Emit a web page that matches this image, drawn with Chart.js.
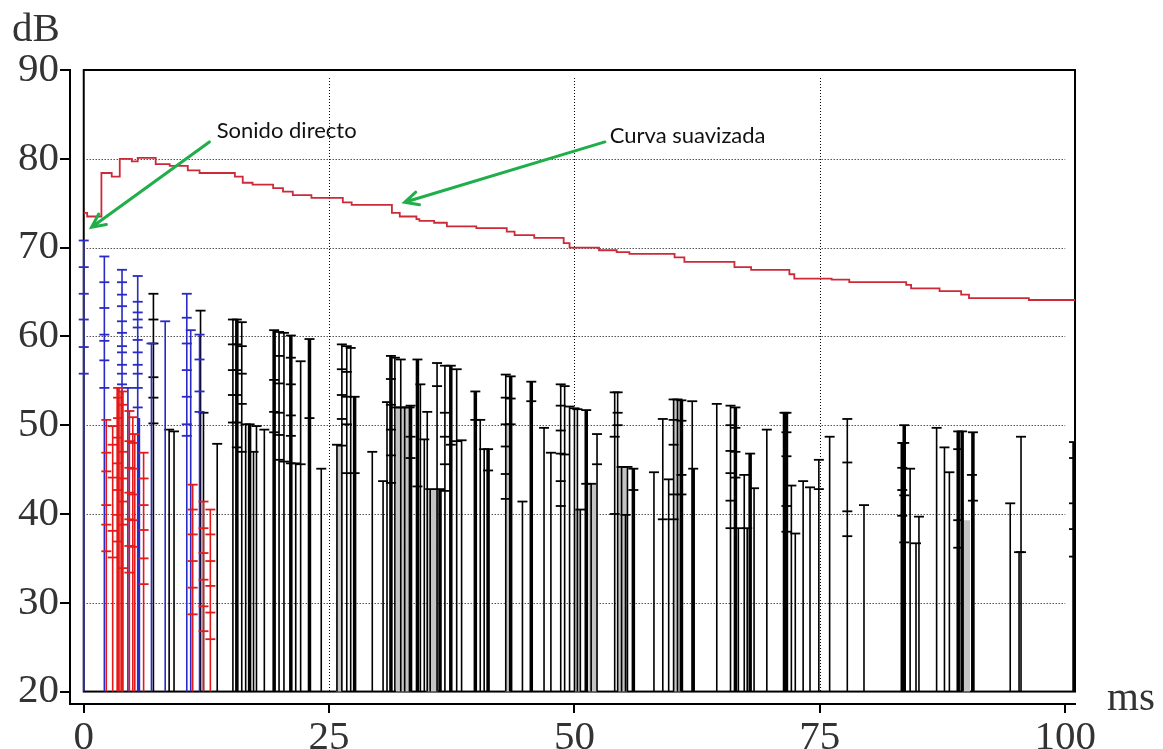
<!DOCTYPE html>
<html>
<head>
<meta charset="utf-8">
<script src="https://cdn.jsdelivr.net/npm/chart.js@4.4.1/dist/chart.umd.min.js"></script>
<style>
  html, body { margin: 0; padding: 0; background: #fff; }
</style>
</head>
<body>
<canvas id="myChart" width="1163" height="749"></canvas>
<script>
// axis ticks and dotted grid
const msTicks = [0, 25, 50, 75, 100];
const dbTicks = [20, 30, 40, 50, 60, 70, 80, 90];
const msGrid = [25, 50, 75];
const dbGrid = [30, 40, 50, 60, 70, 80];

// smoothed energy curve, each value holds from its ms onward
const curveMs = [0, 0.35, 1.8, 2.85, 3.67, 4.9, 5.5, 7.33, 8.76, 10.6, 11.8, 15.4, 16.2, 17.2, 19.3, 20.3, 21.3, 23.2,
  26.4, 27.3, 31.4, 32.2, 33.9, 34.2, 35.7, 37.0, 40.0, 43.1, 43.9, 45.9, 48.9, 49.5, 52.5, 54.3, 55.6, 60.2,
  61.2, 66.3, 68.0, 71.9, 72.4, 76.2, 78.0, 83.8, 84.3, 87.2, 89.4, 90.2, 96.3, 101];
const curveDb = [73.9, 73.5, 78.4, 78.0, 80.0, 79.7, 80.1, 79.4, 79.2, 78.7, 78.4, 78.0, 77.3, 77.1, 76.7, 76.3, 75.9, 75.6,
  75.1, 74.8, 73.9, 73.5, 73.2, 73.0, 72.8, 72.4, 72.2, 71.8, 71.4, 71.1, 70.5, 70.0, 69.7, 69.5, 69.3, 68.9,
  68.4, 67.8, 67.5, 67.0, 66.5, 66.4, 66.1, 65.8, 65.4, 65.1, 64.7, 64.3, 64.1, 64.1];

// reflections: [ms, level dB, [marks below the top]]
const blueHits = [
  [0.0, 70.8, [67.8, 64.8, 61.9, 58.8, 55.8]],
  [2.1, 69.0, [66.1, 63.2, 60.2, 59.5, 57.3, 54.2]],
  [3.9, 67.5, [66.1, 64.7, 63.4, 61.7, 60.4, 58.9, 58.2, 56.8, 55.8, 54.6]],
  [4.5, 54.2, []],
  [5.5, 66.8, [63.9, 62.7, 61.9, 61.0, 59.6, 58.2, 56.8, 55.8, 54.2, 52.0]],
  [6.9, 59.2, []],
  [8.3, 61.7, []],
  [10.5, 64.8, [62.1, 59.2, 56.2, 53.2, 50.1, 48.8]],
  [10.9, 60.7, []],
  [11.8, 60.2, [57.4, 53.8, 51.5]]
];
const blueHeavy = [
  [5.6, 50.8, []]
];
const redHits = [
  [2.3, 50.6, [46.9, 44.8, 41.0, 38.8, 35.8]],
  [2.95, 49.9, [47.8, 44.1, 38.1, 35.1]],
  [4.65, 51.6, [48.2, 45.2, 42.4, 39.4, 36.4, 33.4]],
  [5.0, 50.9, [48.0, 45.1, 42.2, 39.3, 36.3]],
  [5.2, 49.0, []],
  [6.1, 46.9, [44.0, 41.0, 38.2, 35.0, 32.1]],
  [11.1, 43.3, [40.5, 37.7, 34.7, 31.7, 28.7]],
  [12.2, 41.4, [38.4, 35.6, 32.6, 29.6, 26.8]],
  [12.9, 40.5, [37.7, 34.7, 31.9, 28.9, 25.9]]
];
const redHeavy = [
  [3.5, 54.2, [53.1, 50.8, 48.6, 45.7, 42.7, 39.9, 36.9]],
  [3.9, 53.8, [52.3, 47.0, 44.0, 41.4, 38.8, 33.9]]
];
const blackHits = [
  [7.1, 64.8, [61.9, 59.2, 55.4, 53.1, 50.2]],
  [8.7, 49.5, []], [9.2, 49.3, []], [11.9, 62.9, []], [12.2, 51.4, []], [13.6, 47.9, []],
  [15.2, 61.9, [59.1, 56.2, 53.4, 50.3]],
  [16.1, 61.6, [58.9, 55.8, 52.4, 47.0]],
  [16.5, 50.1, []], [17.3, 47.0, []], [17.6, 49.9, []], [18.4, 49.5, []],
  [19.9, 60.5, [57.8, 54.7, 51.4, 48.9, 46.1]],
  [20.4, 60.4, [45.9]],
  [21.6, 45.7, []],
  [22.1, 57.2, [45.6]],
  [24.2, 45.1, []], [25.8, 47.8, []],
  [26.3, 59.1, [56.3, 53.4, 50.7, 47.7]],
  [26.8, 58.9, [56.0, 53.2, 50.1, 44.6]],
  [27.2, 58.7, []], [29.4, 47.0, []], [30.5, 43.7, []], [30.9, 52.6, []],
  [31.7, 57.6, [52.0]], [32.3, 57.4, [52.0]],
  [32.7, 52.0, []], [33.2, 52.0, []], [34.3, 54.6, []], [34.7, 48.4, []], [35.0, 51.5, []], [35.3, 42.8, []],
  [36.0, 57.0, [54.4]],
  [36.8, 56.7, [51.4, 48.7, 45.6, 42.6]],
  [38.0, 56.3, [48.2]],
  [38.5, 48.3, []], [40.4, 50.6, []], [40.8, 47.3, []],
  [43.0, 55.7, [53.1, 50.1, 47.6, 44.5, 41.7]],
  [44.7, 41.4, []], [46.9, 49.7, []], [47.6, 46.9, []],
  [48.6, 54.6, [52.2, 49.4, 46.8, 43.7, 40.9]],
  [49.0, 54.4, [46.7]],
  [49.5, 52.1, []], [50.0, 51.9, []], [50.3, 51.8, []], [50.6, 40.5, []], [51.7, 43.4, []],
  [52.3, 49.0, [45.6]],
  [54.1, 53.7, [48.7, 40.0]],
  [54.4, 53.7, [51.4, 50.0]],
  [54.8, 45.3, []], [55.2, 39.9, []], [55.4, 45.3, []], [58.1, 44.7, []],
  [59.0, 50.7, [39.4]],
  [59.6, 43.9, []],
  [60.1, 52.9, [50.6, 47.8, 42.2, 39.4]],
  [60.5, 52.9, []], [62.0, 52.7, []], [64.5, 52.4, []],
  [65.9, 52.2, [50.0, 47.1, 44.6, 41.5, 38.4]],
  [66.7, 38.4, []], [67.3, 44.4, []], [67.6, 38.4, []], [68.3, 42.9, []], [69.6, 49.5, []],
  [72.1, 43.2, []], [72.5, 37.8, []], [73.3, 43.7, []], [74.0, 43.0, []],
  [74.9, 46.1, [42.8]],
  [76.0, 48.7, []],
  [77.8, 50.7, [45.8, 40.3, 37.5]],
  [79.5, 41.0, []], [84.2, 45.1, []], [84.8, 36.7, []], [85.1, 39.7, []], [86.9, 49.7, []],
  [87.7, 47.5, []], [88.2, 44.7, []], [90.5, 44.4, []], [94.4, 41.2, []], [95.3, 35.7, []],
  [95.5, 48.7, [35.7]]
];
const blackHeavy = [
  [15.6, 61.9, [59.1, 56.2, 53.4, 50.3, 47.5]],
  [16.9, 50.1, []],
  [19.4, 60.7, [55.1, 51.5, 49.2]],
  [21.1, 60.1, [57.6, 54.6, 51.1, 48.8, 45.7]],
  [23.0, 59.7, [50.8]],
  [27.6, 53.2, [44.6]],
  [31.3, 57.8, [55.2, 52.3, 49.5, 46.6, 43.5]],
  [33.3, 52.2, [48.7, 46.3]],
  [34.0, 57.4, [43.1]],
  [36.3, 42.8, []],
  [37.4, 56.7, [47.8]],
  [39.9, 53.8, [50.6]],
  [41.2, 47.3, [44.9]],
  [43.5, 55.5, [53.0, 50.1]],
  [45.6, 54.9, [52.7]],
  [51.2, 51.7, [43.4]],
  [56.0, 45.1, [42.7]],
  [60.9, 52.8, [50.5, 44.4, 42.2]],
  [62.1, 45.1, []],
  [66.4, 52.0, [49.7, 47.0, 44.1]],
  [67.9, 46.8, []],
  [71.4, 51.4, []],
  [71.6, 51.4, [49.2, 46.5, 40.9, 38.0]],
  [83.4, 48.0, [45.2, 42.7, 39.8]],
  [83.6, 50.0, [48.0, 42.1, 36.8]],
  [89.1, 49.3, [47.3, 39.3, 36.2]],
  [89.5, 49.3, []],
  [90.6, 49.2, [41.5]],
  [100.9, 48.1, [46.3, 41.2, 38.3, 35.2]]
];
// shaded spans between close reflections: [from ms, to ms, level dB]
const greySpans = [
  [25.7, 26.3, 47.8], [31.8, 33.4, 52.0], [34.9, 36.1, 42.8], [42.9, 43.5, 50.2],
  [50.0, 50.6, 40.5], [51.4, 52.3, 43.4], [54.4, 55.4, 45.3], [60.1, 60.9, 52.9], [89.5, 90.3, 39.3]
];

// callouts: label, label anchor, arrow tail, arrow tip (ms, dB)
const notes = [
  { text: 'Sonido directo', at: [13.55, 82.35], from: [12.8, 81.9], to: [0.8, 72.3] },
  { text: 'Curva suavizada', at: [53.6, 81.8], from: [53.1, 81.9], to: [32.7, 75.1] }
];

const floorDb = dbTicks[0];

function stemPoints(rows) {
  const pts = [];
  rows.forEach(r => {
    pts.push({ x: r[0], y: floorDb }, { x: r[0], y: r[1] }, { x: r[0], y: null });
  });
  return pts;
}

function markPoints(rows) {
  const pts = [];
  rows.forEach(r => {
    pts.push({ x: r[0], y: r[1] });
    r[2].forEach(v => pts.push({ x: r[0], y: v }));
  });
  return pts;
}

function stemSet(rows, color, width, order) {
  return {
    data: stemPoints(rows), borderColor: color, borderWidth: width,
    pointRadius: 0, spanGaps: false, order: order
  };
}

function markSet(rows, color, order) {
  return {
    data: markPoints(rows), showLine: false, pointStyle: 'line', pointRadius: 5,
    pointBorderColor: color, pointBorderWidth: 1.8, order: order
  };
}

const BLUE = '#2a2ac4';
const RED = '#e41a1a';
const BLACK = '#000';

const datasets = [
  {
    data: curveMs.map((m, i) => ({ x: m, y: curveDb[i] })),
    stepped: true, borderColor: '#cc2a38', borderWidth: 1.8, pointRadius: 0, order: 0
  },
  markSet(redHits.concat(redHeavy), RED, 1),
  stemSet(redHits, RED, 1.6, 1),
  stemSet(redHeavy, RED, 3.5, 1),
  markSet(blueHits, BLUE, 2),
  stemSet(blueHits, BLUE, 1.6, 2),
  stemSet(blueHeavy, BLUE, 3, 2),
  markSet(blackHits.concat(blackHeavy), BLACK, 3),
  stemSet(blackHits, BLACK, 1.6, 3),
  stemSet(blackHeavy, BLACK, 3.5, 3)
];
greySpans.forEach(s => {
  datasets.push({
    data: [{ x: s[0], y: floorDb }, { x: s[0], y: s[2] }, { x: s[1], y: s[2] }, { x: s[1], y: floorDb }],
    borderWidth: 0, pointRadius: 0, fill: { value: floorDb }, backgroundColor: '#c4c4c4', order: 4
  });
});

function drawArrow(ctx, x1, y1, x2, y2) {
  const ang = Math.atan2(y2 - y1, x2 - x1);
  const head = 15;
  ctx.beginPath();
  ctx.moveTo(x1, y1);
  ctx.lineTo(x2, y2);
  ctx.moveTo(x2 + head * Math.cos(ang + Math.PI - 0.45), y2 + head * Math.sin(ang + Math.PI - 0.45));
  ctx.lineTo(x2, y2);
  ctx.lineTo(x2 + head * Math.cos(ang + Math.PI + 0.45), y2 + head * Math.sin(ang + Math.PI + 0.45));
  ctx.stroke();
}

const frame = {
  id: 'frame',
  beforeDatasetsDraw(chart) {
    const { ctx, scales: { x, y } } = chart;
    ctx.save();
    ctx.strokeStyle = '#000';
    ctx.lineWidth = 1;
    ctx.setLineDash([1, 2]);
    dbGrid.forEach(v => {
      const py = Math.round(y.getPixelForValue(v)) + 0.5;
      ctx.beginPath();
      ctx.moveTo(x.getPixelForValue(0.3), py);
      ctx.lineTo(x.getPixelForValue(100), py);
      ctx.stroke();
    });
    msGrid.forEach(v => {
      const px = Math.round(x.getPixelForValue(v)) + 0.5;
      ctx.beginPath();
      ctx.moveTo(px, y.getPixelForValue(89.1));
      ctx.lineTo(px, y.getPixelForValue(floorDb));
      ctx.stroke();
    });
    // plot box
    ctx.setLineDash([]);
    ctx.lineWidth = 2;
    const left = x.getPixelForValue(0), right = x.getPixelForValue(x.max);
    const top = y.getPixelForValue(y.max), bottom = y.getPixelForValue(floorDb);
    ctx.strokeRect(left, top, right - left, bottom - top);
    ctx.restore();
  },
  afterDraw(chart) {
    const { ctx, scales: { x, y } } = chart;
    ctx.save();
    // unit labels
    ctx.fillStyle = '#333';
    ctx.font = '41px "Liberation Serif"';
    ctx.textBaseline = 'alphabetic';
    ctx.fillText('dB', 12, 41);
    ctx.fillText('ms', 1107, 710);
    // callouts
    ctx.strokeStyle = '#1fae4a';
    ctx.lineWidth = 3;
    ctx.lineCap = 'round';
    notes.forEach(n => {
      drawArrow(ctx, x.getPixelForValue(n.from[0]), y.getPixelForValue(n.from[1]),
        x.getPixelForValue(n.to[0]), y.getPixelForValue(n.to[1]));
    });
    ctx.fillStyle = '#111';
    ctx.font = '22px Lato';
    notes.forEach(n => {
      ctx.fillText(n.text, x.getPixelForValue(n.at[0]), y.getPixelForValue(n.at[1]));
    });
    ctx.restore();
  }
};

const tickFont = { family: 'Liberation Serif', size: 41 };

const ctx = document.getElementById('myChart').getContext('2d');
const myChart = new Chart(ctx, {
  type: 'line',
  data: { datasets: datasets },
  options: {
    responsive: false,
    animation: false,
    events: [],
    layout: { padding: { left: 0, right: 88, top: 70, bottom: 0 } },
    plugins: {
      legend: { display: false },
      tooltip: { enabled: false }
    },
    scales: {
      x: {
        type: 'linear',
        min: -1.4,
        max: 101,
        afterFit(s) { s.height = 45; },
        afterBuildTicks(s) { s.ticks = msTicks.map(v => ({ value: v })); },
        grid: { drawOnChartArea: false, drawTicks: true, tickLength: 9, color: '#000', lineWidth: 2 },
        border: { display: true, color: '#000', width: 2 },
        ticks: { font: tickFont, color: '#333', padding: 1, maxRotation: 0, autoSkip: false }
      },
      y: {
        type: 'linear',
        min: 18.6,
        max: 90,
        afterFit(s) { s.width = 70; },
        afterBuildTicks(s) { s.ticks = dbTicks.map(v => ({ value: v })); },
        grid: { drawOnChartArea: false, drawTicks: true, tickLength: 10, color: '#000', lineWidth: 2 },
        border: { display: true, color: '#000', width: 2 },
        ticks: { font: tickFont, color: '#333', padding: 1 }
      }
    }
  },
  plugins: [frame]
});
</script>
</body>
</html>
